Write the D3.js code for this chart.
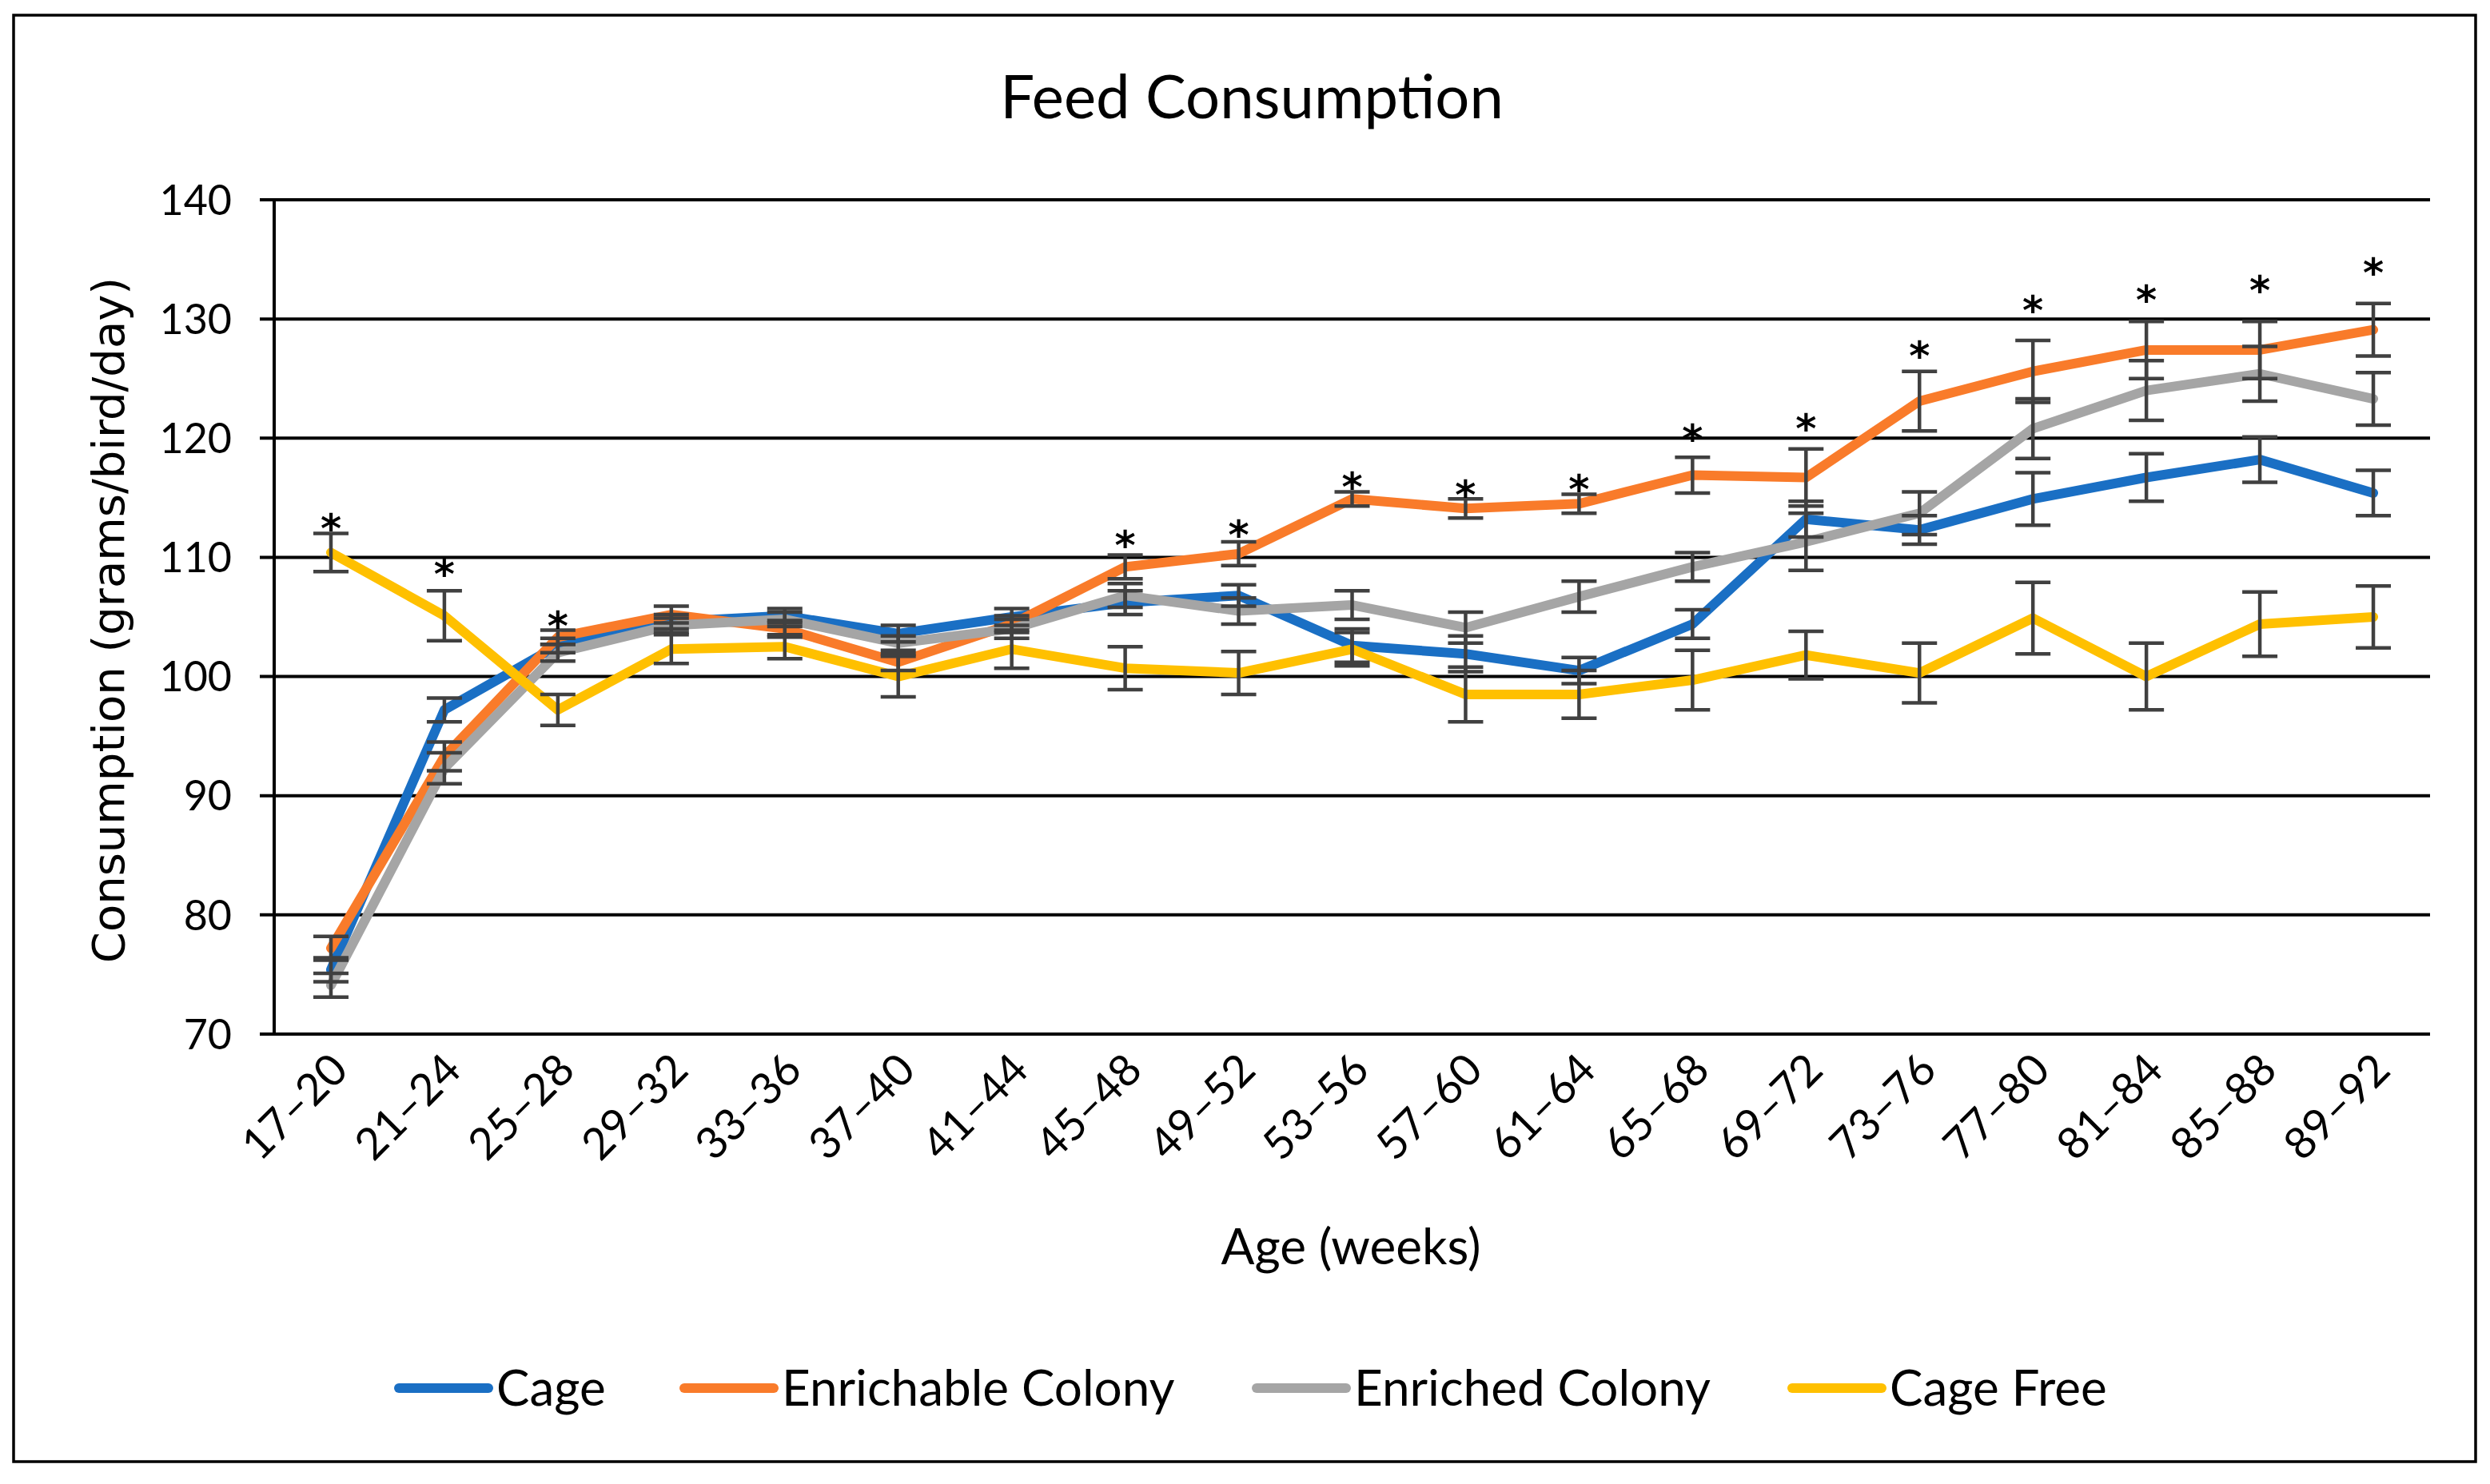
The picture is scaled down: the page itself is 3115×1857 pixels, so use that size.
<html>
<head>
<meta charset="utf-8">
<title>Feed Consumption</title>
<script src="https://d3js.org/d3.v7.min.js"></script>
<style>
  body { margin: 0; background: #fff; }
  svg { display: block; }
  .grid line { stroke: #000; stroke-width: 4; }
  .ytick { font-family: Lato, sans-serif; font-size: 52px; fill: #000; }
  .xtick { font-family: Lato, sans-serif; font-size: 55px; fill: #000; }
  .title { font-family: Lato, sans-serif; font-size: 76px; fill: #000; }
  .axis-title { font-family: Lato, sans-serif; font-size: 62px; fill: #000; }
  .y-title { font-family: "DejaVu Sans", sans-serif; font-size: 56px; fill: #000; }
  .legend text { font-family: Lato, sans-serif; font-size: 62px; fill: #000; }
  .series { fill: none; stroke-width: 12; stroke-linejoin: round; stroke-linecap: round; }
  .err { stroke: #404040; stroke-width: 4.5; }
  .star { font-family: "DejaVu Sans", sans-serif; font-size: 50px; font-weight: bold; fill: #000; }
</style>
</head>
<body>
<svg width="3115" height="1857"></svg>
<script>
const categories = ['17–20', '21–24', '25–28', '29–32', '33–36', '37–40', '41–44', '45–48', '49–52',
  '53–56', '57–60', '61–64', '65–68', '69–72', '73–76', '77–80', '81–84', '85–88', '89–92'];

const seriesNames = ['Cage', 'Enrichable Colony', 'Enriched Colony', 'Cage Free'];

const cage = [75.4, 97.2, 102.6, 104.6, 105.1, 103.6, 105.0, 106.2, 106.8, 102.6,
  101.9, 100.5, 104.4, 113.2, 112.3, 114.9, 116.7, 118.2, 115.4];
const enrichable = [77.2, 93.3, 103.3, 105.2, 104.0, 101.2, 104.4, 109.2, 110.3, 114.9,
  114.1, 114.5, 116.9, 116.7, 123.1, 125.6, 127.4, 127.4, 129.1];
const enriched = [74.1, 92.3, 102.0, 104.3, 104.8, 102.8, 104.0, 106.8, 105.5, 106.0,
  104.1, 106.7, 109.2, 111.3, 113.7, 120.8, 124.0, 125.4, 123.3];
const cageFree = [110.4, 105.1, 97.2, 102.3, 102.5, 100.0, 102.3, 100.7, 100.3, 102.3,
  98.5, 98.5, 99.7, 101.8, 100.3, 104.9, 100.0, 104.4, 105.0];

// standard errors (+/-)
const cageErr = [1.0, 1.0, 0.6, 0.6, 0.6, 0.7, 0.7, 1.0, 0.9, 1.4, 1.5, 1.1, 1.2, 1.5, 1.2, 2.2, 2.0, 1.9, 1.9];
const enrichableErr = [1.0, 1.2, 0.6, 0.7, 0.7, 0.7, 0.7, 1.0, 1.0, 0.6, 0.8, 0.8, 1.5, 2.4, 2.5, 2.6, 2.4, 2.4, 2.2];
const enrichedErr = [1.0, 1.3, 0.7, 0.6, 0.6, 0.6, 0.8, 1.0, 1.1, 1.2, 1.3, 1.3, 1.2, 2.4, 1.8, 2.5, 2.5, 2.3, 2.2];
const cageFreeErr = [1.6, 2.1, 1.3, 1.2, 1.0, 1.7, 1.6, 1.8, 1.8, 1.4, 2.3, 2.0, 2.5, 2.0, 2.5, 3.0, 2.8, 2.7, 2.6];

// significance markers (value where the * sits, null = none)
const starAt = [112.7, 108.9, 104.5, null, null, null, null, 111.3, 112.2, 116.2,
  115.5, 116.0, 120.2, 121.1, 127.2, 131.0, 131.9, 132.7, 134.2];

const yTicks = [70, 80, 90, 100, 110, 120, 130, 140];
const colors = ['#1a6fc4', '#f97b2a', '#a5a5a5', '#ffc000'];

const values = [cage, enrichable, enriched, cageFree];
const errors = [cageErr, enrichableErr, enrichedErr, cageFreeErr];

const svg = d3.select('svg');

const plotLeft = 343, plotRight = 3040, plotTop = 250, plotBottom = 1294;

const x = d3.scaleBand().domain(categories).range([plotLeft, plotRight]);
const y = d3.scaleLinear().domain([70, 140]).range([plotBottom, plotTop]);
const cx = (c) => x(c) + x.bandwidth() / 2;

// outer border
svg.append('rect')
  .attr('x', 17).attr('y', 19).attr('width', 3080).attr('height', 1810)
  .attr('fill', 'none').attr('stroke', '#000').attr('stroke-width', 3.5);

svg.append('text').attr('class', 'title')
  .attr('x', 1566).attr('y', 148).attr('text-anchor', 'middle')
  .text('Feed Consumption');

// grid + y ticks
const grid = svg.append('g').attr('class', 'grid');
grid.selectAll('line.h').data(yTicks).enter().append('line')
  .attr('x1', plotLeft - 18).attr('x2', plotRight)
  .attr('y1', (d) => y(d)).attr('y2', (d) => y(d));
grid.append('line')
  .attr('x1', plotLeft).attr('x2', plotLeft).attr('y1', y(140) - 2).attr('y2', y(70) + 2);

svg.selectAll('text.ytick').data(yTicks).enter().append('text')
  .attr('class', 'ytick')
  .attr('x', 290).attr('y', (d) => y(d)).attr('dy', '0.36em')
  .attr('text-anchor', 'end')
  .text((d) => d);

svg.selectAll('text.xtick').data(categories).enter().append('text')
  .attr('class', 'xtick')
  .attr('text-anchor', 'end')
  .attr('transform', (d) => `translate(${cx(d) + 24}, ${plotBottom + 48}) rotate(-45)`)
  .text((d) => d);

svg.append('text').attr('class', 'axis-title')
  .attr('x', 1690).attr('y', 1582).attr('text-anchor', 'middle')
  .text('Age (weeks)');

svg.append('text').attr('class', 'y-title')
  .attr('transform', `translate(155, ${(plotTop + plotBottom) / 2 + 4}) rotate(-90)`)
  .attr('text-anchor', 'middle')
  .text('Consumption (grams/bird/day)');

// lines
const line = d3.line()
  .x((d, i) => cx(categories[i]))
  .y((d) => y(d));

values.forEach((vals, s) => {
  svg.append('path').attr('class', 'series')
    .attr('stroke', colors[s])
    .attr('d', line(vals));
});

// error bars
const capW = 22;
values.forEach((vals, s) => {
  const g = svg.append('g');
  vals.forEach((v, i) => {
    const e = errors[s][i];
    const px = cx(categories[i]);
    g.append('line').attr('class', 'err')
      .attr('x1', px).attr('x2', px).attr('y1', y(v + e)).attr('y2', y(v - e));
    [v + e, v - e].forEach((t) => {
      g.append('line').attr('class', 'err')
        .attr('x1', px - capW).attr('x2', px + capW).attr('y1', y(t)).attr('y2', y(t));
    });
  });
});

// asterisks
svg.selectAll('text.star').data(categories.filter((c, i) => starAt[i] !== null)).enter()
  .append('text').attr('class', 'star')
  .attr('x', (d) => cx(d))
  .attr('y', (d) => y(starAt[categories.indexOf(d)]) + 22)
  .attr('text-anchor', 'middle')
  .text('*');

// legend
const legendX = [493, 850, 1566, 2236];
const legend = svg.append('g').attr('class', 'legend');
seriesNames.forEach((name, s) => {
  legend.append('line')
    .attr('x1', legendX[s] + 6).attr('x2', legendX[s] + 118)
    .attr('y1', 1737).attr('y2', 1737)
    .attr('stroke', colors[s]).attr('stroke-width', 12).attr('stroke-linecap', 'round');
  legend.append('text')
    .attr('x', legendX[s] + 128).attr('y', 1737).attr('dy', '0.36em')
    .text(name);
});
</script>
</body>
</html>
